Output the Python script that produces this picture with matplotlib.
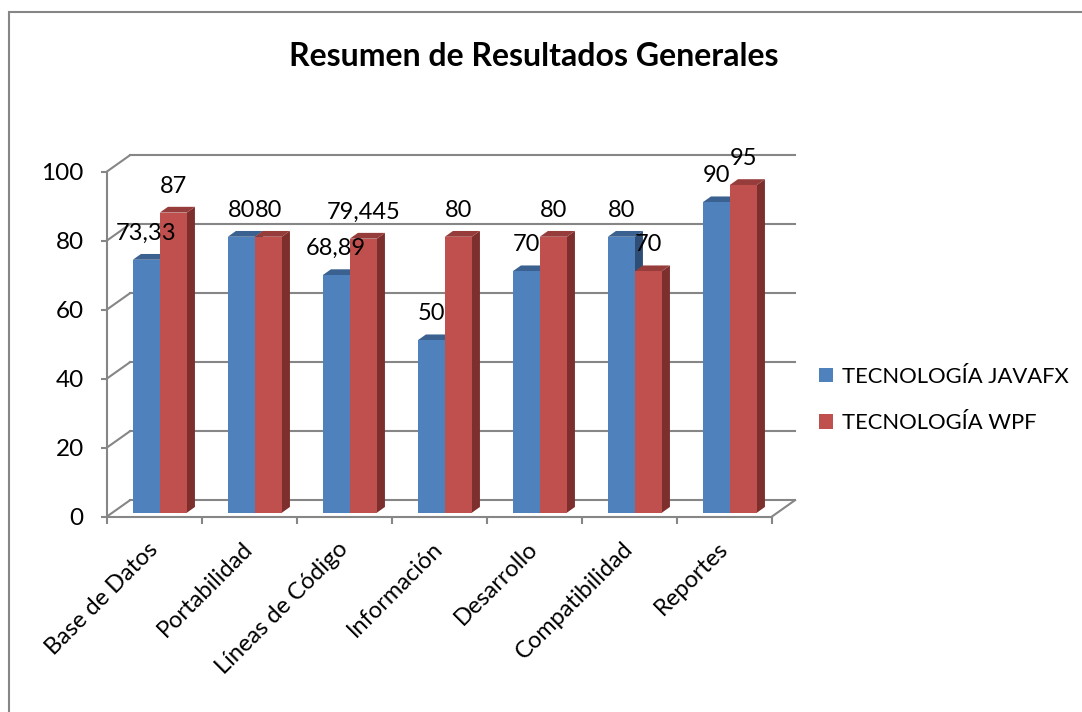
import numpy as np
import matplotlib.pyplot as plt
from matplotlib.patches import Polygon, Rectangle, Patch

# datos del grafico
categorias = ['Base de Datos', 'Portabilidad', 'Líneas de Código', 'Información',
              'Desarrollo', 'Compatibilidad', 'Reportes']
javafx = [73.33, 80, 68.89, 50, 70, 80, 90]
wpf = [87, 80, 79.445, 80, 80, 70, 95]
series = ['TECNOLOGÍA JAVAFX', 'TECNOLOGÍA WPF']
y_ticks = [0, 20, 40, 60, 80, 100]
titulo = 'Resumen de Resultados Generales'

FONT = 'Lato'
GRIS = '#868686'
AZUL = ('#4F81BD', '#3B6190', '#2F4E75')   # frente, arriba, lado
ROJO = ('#C0504D', '#963C3A', '#7D2F2E')

W, H = 1082, 712
fig = plt.figure(figsize=(W / 100, H / 100), dpi=100)
plt.rcParams['font.family'] = FONT

# plano frontal del grafico (en pixeles de la figura)
ax = fig.add_axes([106.7 / W, 1 - 516.7 / H, 665 / W, 345 / H])
n = len(categorias)
ax.set_xlim(-0.5, n - 0.5)
ax.set_ylim(0, 100)

# profundidad 3D en unidades de datos
px_x = 665 / n
px_y = 345 / 100
dxw, dyw = 23.3 / px_x, 16.5 / px_y          # pared del fondo
f0, fd = 0.24, 0.35                            # posicion y fondo de las barras
bx0, by0 = f0 * dxw, f0 * dyw
bdx, bdy = fd * dxw, fd * dyw
ancho = 27 / px_x

# pared del fondo y pared lateral
for v in y_ticks:
    ax.plot([-0.5 + dxw, n - 0.5 + dxw], [v + dyw, v + dyw], color=GRIS,
            lw=1.5, clip_on=False, zorder=1)
    ax.plot([-0.5, -0.5 + dxw], [v, v + dyw], color=GRIS, lw=1.5,
            clip_on=False, zorder=1)
ax.plot([n - 0.5, n - 0.5 + dxw], [0, dyw], color=GRIS, lw=1.5,
        clip_on=False, zorder=1)


def barra_3d(xc, valor, colores):
    x0 = xc - ancho / 2
    x1 = xc + ancho / 2
    top = by0 + valor
    lado = Polygon([(x1, by0), (x1, top), (x1 + bdx, top + bdy), (x1 + bdx, by0 + bdy)],
                   closed=True, fc=colores[2], ec='none', clip_on=False, zorder=3)
    arriba = Polygon([(x0, top), (x1, top), (x1 + bdx, top + bdy), (x0 + bdx, top + bdy)],
                     closed=True, fc=colores[1], ec='none', clip_on=False, zorder=3)
    ax.add_patch(lado)
    ax.add_patch(arriba)
    ax.bar(xc, valor, width=ancho, bottom=by0, color=colores[0], zorder=3,
           clip_on=False)
    etiqueta = f'{valor:g}'.replace('.', ',')
    ax.annotate(etiqueta, (xc, top), xytext=(0, 14.4), textcoords='offset points',
                ha='center', va='baseline', fontsize=17, color='black',
                annotation_clip=False, zorder=5)


x = np.arange(n)
for i in range(n):
    barra_3d(x[i] + bx0 - ancho / 2, javafx[i], AZUL)
    barra_3d(x[i] + bx0 + ancho / 2, wpf[i], ROJO)

# ejes
for s in ['top', 'right']:
    ax.spines[s].set_visible(False)
for s in ['left', 'bottom']:
    ax.spines[s].set_color(GRIS)
    ax.spines[s].set_linewidth(1.5)
    ax.spines[s].set_zorder(2)
ax.set_yticks(y_ticks)
ax.set_yticklabels([str(t) for t in y_ticks])
ax.tick_params(axis='y', direction='out', length=4.5, width=1.5, color=GRIS,
               labelsize=17.5, pad=12)
ax.set_xticks(np.arange(n + 1) - 0.5)
ax.set_xticklabels([])
ax.tick_params(axis='x', which='major', direction='out', length=5, width=1.5,
               color=GRIS)
ax.set_xticks(x, labels=categorias, minor=True)
ax.tick_params(axis='x', which='minor', length=0, pad=21, labelsize=17)
for lab in ax.get_xticklabels(minor=True):
    lab.set_rotation(45)
    lab.set_ha('right')
    lab.set_va('center')
    lab.set_rotation_mode('anchor')
ax.patch.set_visible(False)

# leyenda
handles = [Patch(facecolor=AZUL[0]), Patch(facecolor=ROJO[0])]
fig.legend(handles, series, loc='center left',
           bbox_to_anchor=(819 / W, 1 - 400 / H), frameon=False,
           fontsize=15.8, handlelength=0.65, handleheight=0.65, handletextpad=0.4,
           labelspacing=1.2, borderpad=0, borderaxespad=0)

# titulo
fig.text(534 / W, 1 - 57 / H, titulo, ha='center', va='center', fontsize=23,
         fontweight='bold')

# marco del grafico
fig.add_artist(Rectangle((8.5 / W, -0.5), 2, 1.5 - 11.5 / H, transform=fig.transFigure,
                         fill=False, ec=GRIS, lw=1.5))

fig.savefig('out.png', dpi=100)
